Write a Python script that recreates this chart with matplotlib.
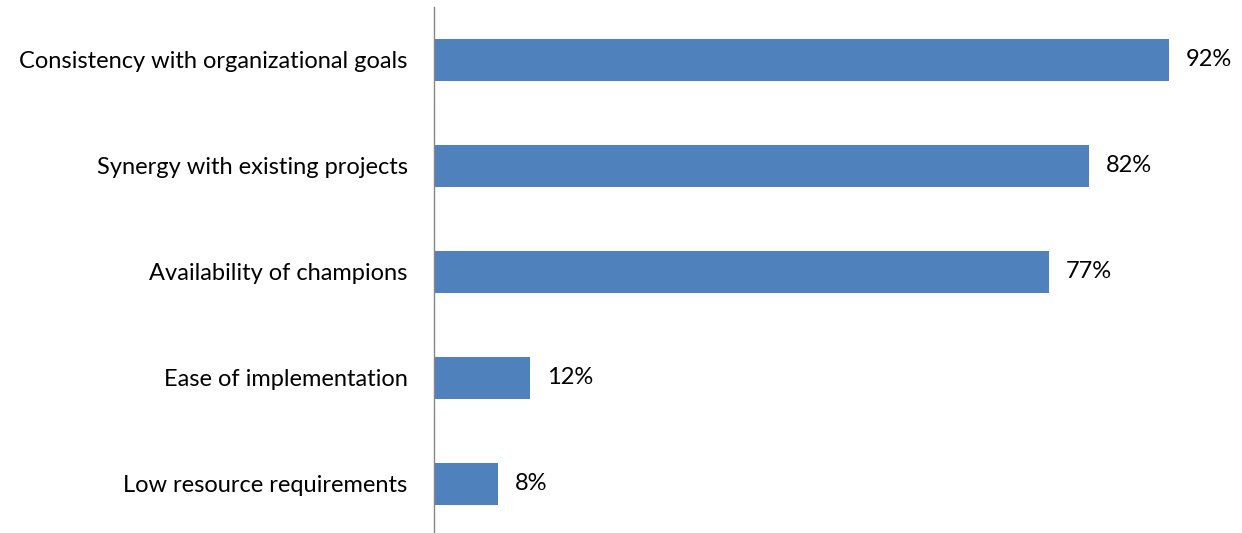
import matplotlib.pyplot as plt

plt.rcParams['font.family'] = ['Lato', 'DejaVu Sans']

# 데이터
categories = ["Consistency with organizational goals", "Synergy with existing projects",
              "Availability of champions", "Ease of implementation", "Low resource requirements"]
values = [92, 82, 77, 12, 8]
value_labels = ["92%", "82%", "77%", "12%", "8%"]

fig = plt.figure(figsize=(12.42, 5.33), dpi=100)
ax = fig.add_axes([434 / 1242, -4 / 533, 799 / 1242, 530 / 533])

pos = list(range(len(categories)))
bars = ax.barh(pos, values, height=0.39, color='#4F81BD')
ax.set_ylim(len(categories) - 0.5, -0.5)
ax.set_xlim(0, 100)

ax.set_yticks(pos)
ax.set_yticklabels(categories, fontsize=17)
ax.tick_params(axis='y', length=0, pad=19, colors='black')
ax.set_xticks([])

for s in ['top', 'right', 'bottom']:
    ax.spines[s].set_visible(False)
ax.spines['left'].set_color('#868686')
ax.spines['left'].set_linewidth(1.0)

# 막대 끝 값 표시
for b, lab in zip(bars, value_labels):
    ax.annotate(lab, (b.get_width(), b.get_y() + b.get_height() / 2),
                xytext=(17, 0), textcoords='offset pixels',
                va='center', ha='left', fontsize=17)

fig.savefig('out.png', dpi=100)
